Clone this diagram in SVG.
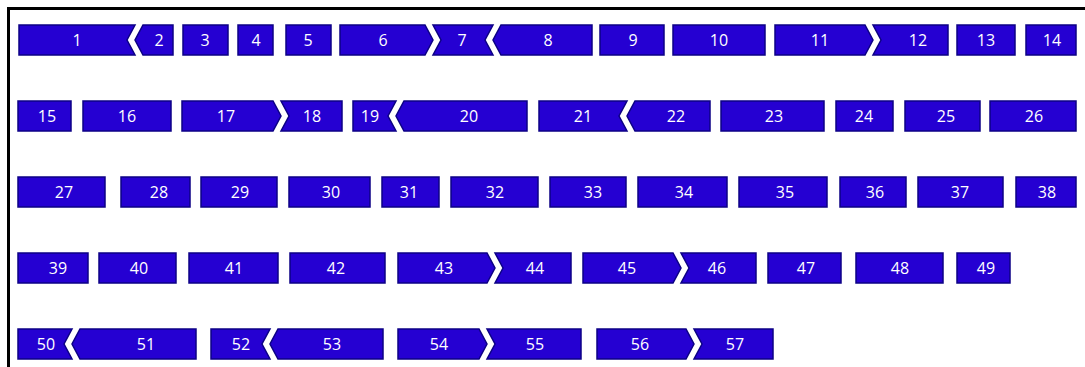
<svg xmlns="http://www.w3.org/2000/svg" width="1085" height="367" viewBox="0 0 1085 367">
<style>
.n path{fill:#2500d2;stroke:#0c0085;stroke-width:1.5;stroke-linejoin:miter}
.n text{fill:#ffffff;font-family:"Open Sans","Noto Sans","Liberation Sans",sans-serif;font-size:16px;text-anchor:middle}
</style>
<rect x="0" y="0" width="1085" height="367" fill="#ffffff"/>
<path d="M8.5 367V8.5H1085" fill="none" stroke="#000000" stroke-width="3"/>
<g id="connectors"></g>
<g id="row1">
<g id="n1" class="n"><path d="M19 25H135L127 40L135 55H19Z"/><text x="77" y="46">1</text></g>
<g id="n2" class="n"><path d="M143 25H173V55H143L135 40Z"/><text x="159" y="46">2</text></g>
<g id="n3" class="n"><path d="M183 25H228V55H183Z"/><text x="205" y="46">3</text></g>
<g id="n4" class="n"><path d="M238 25H273V55H238Z"/><text x="256" y="46">4</text></g>
<g id="n5" class="n"><path d="M286 25H331V55H286Z"/><text x="308" y="46">5</text></g>
<g id="n6" class="n"><path d="M340 25H425L433 40L425 55H340Z"/><text x="383" y="46">6</text></g>
<g id="n7" class="n"><path d="M433 25H493L485 40L493 55H433L441 40Z"/><text x="462" y="46">7</text></g>
<g id="n8" class="n"><path d="M501 25H592V55H501L493 40Z"/><text x="548" y="46">8</text></g>
<g id="n9" class="n"><path d="M600 25H664V55H600Z"/><text x="633" y="46">9</text></g>
<g id="n10" class="n"><path d="M673 25H765V55H673Z"/><text x="719" y="46">10</text></g>
<g id="n11" class="n"><path d="M775 25H865L873 40L865 55H775Z"/><text x="820" y="46">11</text></g>
<g id="n12" class="n"><path d="M873 25H948V55H873L881 40Z"/><text x="918" y="46">12</text></g>
<g id="n13" class="n"><path d="M957 25H1015V55H957Z"/><text x="986" y="46">13</text></g>
<g id="n14" class="n"><path d="M1026 25H1076V55H1026Z"/><text x="1052" y="46">14</text></g>
</g>
<g id="row2">
<g id="n15" class="n"><path d="M18 101H71V131H18Z"/><text x="47" y="122">15</text></g>
<g id="n16" class="n"><path d="M83 101H171V131H83Z"/><text x="127" y="122">16</text></g>
<g id="n17" class="n"><path d="M182 101H273L281 116L273 131H182Z"/><text x="226" y="122">17</text></g>
<g id="n18" class="n"><path d="M281 101H342V131H281L289 116Z"/><text x="312" y="122">18</text></g>
<g id="n19" class="n"><path d="M353 101H396L388 116L396 131H353Z"/><text x="370" y="122">19</text></g>
<g id="n20" class="n"><path d="M404 101H527V131H404L396 116Z"/><text x="469" y="122">20</text></g>
<g id="n21" class="n"><path d="M539 101H627L619 116L627 131H539Z"/><text x="583" y="122">21</text></g>
<g id="n22" class="n"><path d="M635 101H710V131H635L627 116Z"/><text x="676" y="122">22</text></g>
<g id="n23" class="n"><path d="M721 101H824V131H721Z"/><text x="774" y="122">23</text></g>
<g id="n24" class="n"><path d="M836 101H893V131H836Z"/><text x="864" y="122">24</text></g>
<g id="n25" class="n"><path d="M905 101H980V131H905Z"/><text x="946" y="122">25</text></g>
<g id="n26" class="n"><path d="M990 101H1076V131H990Z"/><text x="1034" y="122">26</text></g>
</g>
<g id="row3">
<g id="n27" class="n"><path d="M18 177H105V207H18Z"/><text x="64" y="198">27</text></g>
<g id="n28" class="n"><path d="M121 177H190V207H121Z"/><text x="159" y="198">28</text></g>
<g id="n29" class="n"><path d="M201 177H277V207H201Z"/><text x="240" y="198">29</text></g>
<g id="n30" class="n"><path d="M289 177H370V207H289Z"/><text x="331" y="198">30</text></g>
<g id="n31" class="n"><path d="M382 177H439V207H382Z"/><text x="409" y="198">31</text></g>
<g id="n32" class="n"><path d="M451 177H538V207H451Z"/><text x="495" y="198">32</text></g>
<g id="n33" class="n"><path d="M550 177H626V207H550Z"/><text x="593" y="198">33</text></g>
<g id="n34" class="n"><path d="M638 177H727V207H638Z"/><text x="684" y="198">34</text></g>
<g id="n35" class="n"><path d="M739 177H827V207H739Z"/><text x="785" y="198">35</text></g>
<g id="n36" class="n"><path d="M840 177H906V207H840Z"/><text x="875" y="198">36</text></g>
<g id="n37" class="n"><path d="M918 177H1003V207H918Z"/><text x="960" y="198">37</text></g>
<g id="n38" class="n"><path d="M1016 177H1076V207H1016Z"/><text x="1047" y="198">38</text></g>
</g>
<g id="row4">
<g id="n39" class="n"><path d="M18 253H88V283H18Z"/><text x="58" y="274">39</text></g>
<g id="n40" class="n"><path d="M99 253H176V283H99Z"/><text x="139" y="274">40</text></g>
<g id="n41" class="n"><path d="M189 253H278V283H189Z"/><text x="234" y="274">41</text></g>
<g id="n42" class="n"><path d="M290 253H385V283H290Z"/><text x="336" y="274">42</text></g>
<g id="n43" class="n"><path d="M398 253H487L495 268L487 283H398Z"/><text x="444" y="274">43</text></g>
<g id="n44" class="n"><path d="M495 253H571V283H495L503 268Z"/><text x="535" y="274">44</text></g>
<g id="n45" class="n"><path d="M583 253H673L681 268L673 283H583Z"/><text x="627" y="274">45</text></g>
<g id="n46" class="n"><path d="M681 253H756V283H681L689 268Z"/><text x="717" y="274">46</text></g>
<g id="n47" class="n"><path d="M768 253H841V283H768Z"/><text x="806" y="274">47</text></g>
<g id="n48" class="n"><path d="M856 253H943V283H856Z"/><text x="900" y="274">48</text></g>
<g id="n49" class="n"><path d="M957 253H1010V283H957Z"/><text x="986" y="274">49</text></g>
</g>
<g id="row5">
<g id="n50" class="n"><path d="M18 329H72L64 344L72 359H18Z"/><text x="46" y="350">50</text></g>
<g id="n51" class="n"><path d="M80 329H196V359H80L72 344Z"/><text x="146" y="350">51</text></g>
<g id="n52" class="n"><path d="M211 329H270L262 344L270 359H211Z"/><text x="241" y="350">52</text></g>
<g id="n53" class="n"><path d="M278 329H383V359H278L270 344Z"/><text x="332" y="350">53</text></g>
<g id="n54" class="n"><path d="M398 329H479L487 344L479 359H398Z"/><text x="439" y="350">54</text></g>
<g id="n55" class="n"><path d="M487 329H581V359H487L495 344Z"/><text x="535" y="350">55</text></g>
<g id="n56" class="n"><path d="M597 329H686L694 344L686 359H597Z"/><text x="640" y="350">56</text></g>
<g id="n57" class="n"><path d="M694 329H773V359H694L702 344Z"/><text x="735" y="350">57</text></g>
</g>
</svg>
